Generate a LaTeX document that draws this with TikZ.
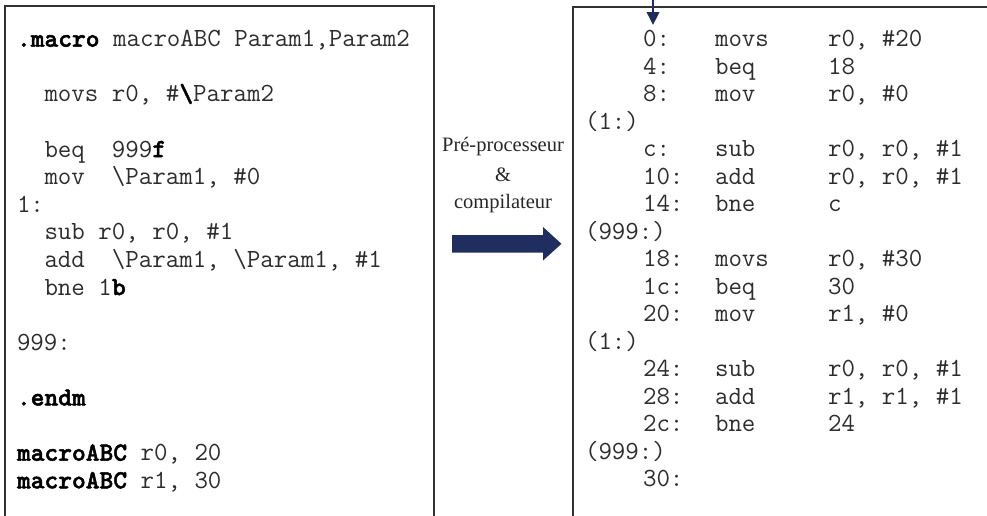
\documentclass[tikz,border=0pt]{standalone}
\usepackage{fontspec}
\setmainfont{Liberation Serif}
\newfontfamily\kwfont{lmmonolt10-bold.otf}[FakeBold=1.8]
\usetikzlibrary{arrows.meta}
\definecolor{navy}{RGB}{31,46,94}
\definecolor{codegray}{RGB}{45,45,45}
\definecolor{framegray}{RGB}{50,50,50}
\newcommand{\bs}{\textbackslash}
\newcommand{\kw}[1]{{\kwfont\color{black}#1}}
\tikzset{
  codeline/.style={anchor=base west, inner sep=0pt, outer sep=0pt, text=codegray,
    font=\ttfamily\fontsize{26.2}{27.6}\selectfont},
  midtext/.style={anchor=base, inner sep=0pt, text=black!85,
    font=\rmfamily\fontsize{20.5}{24}\selectfont},
  frameline/.style={draw=framegray, line width=2.2pt},
}
\begin{document}
\begin{tikzpicture}[x=1pt,y=-1pt]
\useasboundingbox (0,0) rectangle (987,515);
% frames
\draw[frameline] (5,530) -- (5,6) -- (434,6) -- (434,530);
\draw[frameline] (573,530) -- (573,7) -- (1000,7);
% left code
\def\lx{17}
\def\li{44.5}
\node[codeline] (l0)  at (\lx,46.7)            {\kw{.macro} macroABC Param1,Param2};
\node[codeline] (l2)  at (\li,{46.7+2*27.6})   {movs r0, \#\kw{\bs}Param2};
\node[codeline] (l4)  at (\li,{46.7+4*27.6})   {beq\ \ 999\kw{f}};
\node[codeline] (l5)  at (\li,{46.7+5*27.6})   {mov\ \ \bs Param1, \#0};
\node[codeline] (l6)  at (\lx,{46.7+6*27.6})   {1:};
\node[codeline] (l7)  at (\li,{46.7+7*27.6})   {sub r0, r0, \#1};
\node[codeline] (l8)  at (\li,{46.7+8*27.6})   {add\ \ \bs Param1, \bs Param1, \#1};
\node[codeline] (l9)  at (\li,{46.7+9*27.6})   {bne 1\kw{b}};
\node[codeline] (l11) at (\lx,{46.7+11*27.6})  {999:};
\node[codeline] (l13) at (\lx,{46.7+13*27.6})  {\kw{.endm}};
\node[codeline] (l15) at (\lx,{46.7+15*27.6})  {\kw{macroABC} r0, 20};
\node[codeline] (l16) at (\lx,{46.7+16*27.6})  {\kw{macroABC} r1, 30};
% middle
\node[midtext] (m1) at (503,151.5) {Pré-processeur};
\node[midtext] (m2) at (503,181.5) {\&};
\node[midtext] (m3) at (503,208.3) {compilateur};
\fill[navy] (452,235) -- (543,235) -- (543,227) -- (561.5,243.8) -- (543,260.5)
  -- (543,252.7) -- (452,252.7) -- cycle;
% top arrow
\coordinate (ta) at (653,-2);
\coordinate (tb) at (653,25);
\draw[navy, line width=1.6pt, -{Triangle[width=12.6pt,length=13pt]}] (ta) -- (tb);
% right code
\def\ra{585}
\def\rb{643}
\def\rc{715}
\def\rd{828}
\def\ry{46.6}
\def\rp{27.5}
\foreach \n/\addr/\op/\arg in {0/0:/movs/{r0, \#20},1/4:/beq/18,2/8:/mov/{r0, \#0},
  4/c:/sub/{r0, r0, \#1},5/10:/add/{r0, r0, \#1},6/14:/bne/c,
  8/18:/movs/{r0, \#30},9/1c:/beq/30,10/20:/mov/{r1, \#0},
  12/24:/sub/{r0, r0, \#1},13/28:/add/{r1, r1, \#1},14/2c:/bne/24}{
  \node[codeline] (ra\n) at (\rb,{\ry+\n*\rp}) {\addr};
  \node[codeline] (rb\n) at (\rc,{\ry+\n*\rp}) {\op};
  \node[codeline] (rc\n) at (\rd,{\ry+\n*\rp}) {\arg};
}
\node[codeline] (rl3)  at (\ra,{\ry+3*\rp})  {(1:)};
\node[codeline] (rl7)  at (\ra,{\ry+7*\rp})  {(999:)};
\node[codeline] (rl11) at (\ra,{\ry+11*\rp}) {(1:)};
\node[codeline] (rl15) at (\ra,{\ry+15*\rp}) {(999:)};
\node[codeline] (ra16) at (\rb,{\ry+16*\rp}) {30:};
\end{tikzpicture}
\end{document}
